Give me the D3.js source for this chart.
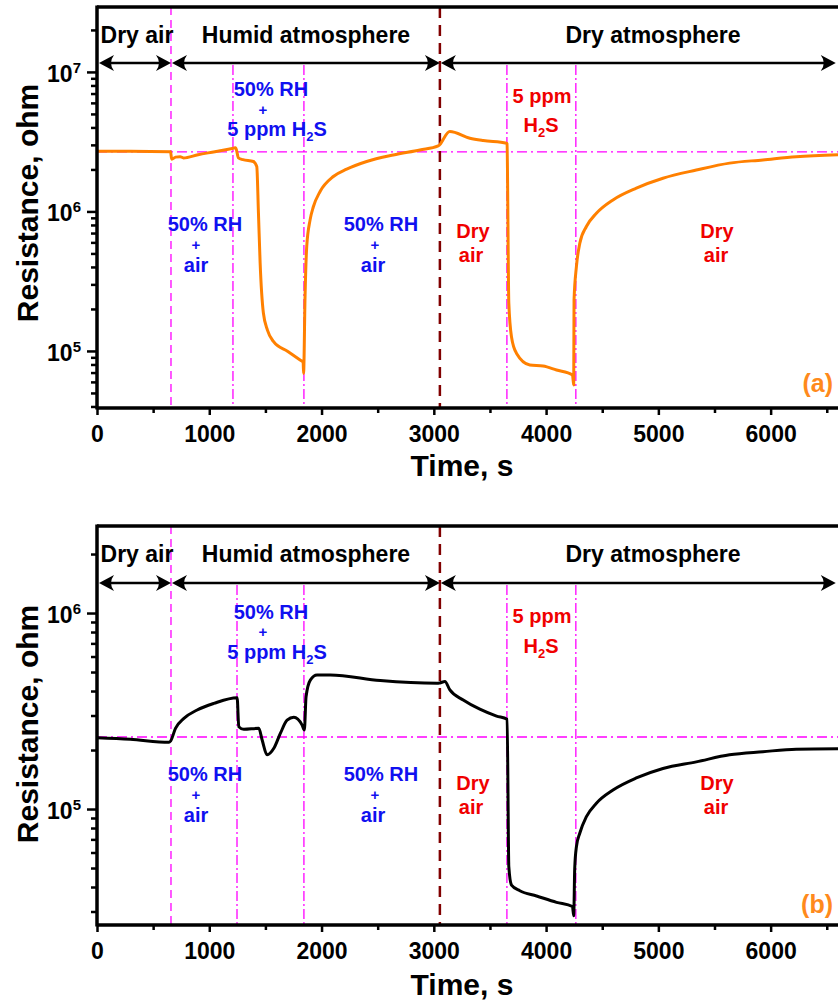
<!DOCTYPE html>
<html>
<head>
<meta charset="utf-8">
<script src="https://cdn.jsdelivr.net/npm/d3@7"></script>
<style>
  body { margin: 0; background: #fff; }
  svg { display: block; font-family: "Liberation Sans", Arial, sans-serif; font-weight: bold; }
</style>
</head>
<body>
<svg id="chart" width="838" height="1003"></svg>
<script>
// ---- data ----
// time axis (s)
const timeTicks = [0, 1000, 2000, 3000, 4000, 5000, 6000];
const timeMinor = [500, 1500, 2500, 3500, 4500, 5500, 6500];

// switching times (s)
const dryEnd = 659;          // dry air -> humid
const humidEnd = 3054;       // humid -> dry atmosphere
const humidH2S_a = [1211, 1843];
const humidH2S_b = [1247, 1843];
const dryH2S = [3651, 4265];

// panel (a): orange curve
const timeA = [0, 300, 655, 665, 700, 740, 770, 900, 1050, 1215, 1235, 1260, 1300, 1393, 1423, 1438, 1453,
  1482, 1518, 1571, 1700, 1809, 1836, 1840, 1853, 1868, 1898, 1927, 1987, 2105, 2224, 2402, 2639, 2876,
  3039, 3060, 3081, 3142, 3321, 3440, 3648, 3652, 3668, 3692, 3737, 3855, 3973, 4093, 4235, 4246, 4249,
  4270, 4300, 4359, 4448, 4596, 4804, 5041, 5338, 5634, 5931, 6228, 6600];
const resA = [2.70e6, 2.70e6, 2.68e6, 2.37e6, 2.45e6, 2.47e6, 2.42e6, 2.55e6, 2.68e6, 2.84e6, 2.86e6, 2.42e6,
  2.35e6, 2.28e6, 2.10e6, 9.75e5, 4.28e5, 1.87e5, 1.41e5, 1.17e5, 9.9e4, 8.6e4, 8.3e4, 6.9e4, 2.45e5, 5.6e5,
  8.7e5, 1.08e6, 1.39e6, 1.78e6, 2.01e6, 2.28e6, 2.54e6, 2.76e6, 2.95e6, 3.05e6, 3.26e6, 3.74e6, 3.35e6,
  3.22e6, 3.08e6, 3.05e6, 2.2e5, 1.26e5, 9.6e4, 7.94e4, 7.8e4, 7.3e4, 6.73e4, 5.7e4, 2.32e5, 4.02e5, 5.9e5,
  7.8e5, 9.7e5, 1.21e6, 1.47e6, 1.73e6, 1.98e6, 2.22e6, 2.34e6, 2.47e6, 2.55e6];
const baselineA = 2.67e6;

// panel (b): black curve
const timeB = [0, 296, 641, 655, 699, 774, 892, 1041, 1248, 1263, 1308, 1441, 1471, 1515, 1575, 1633, 1693,
  1753, 1827, 1847, 1862, 1900, 1960, 2078, 2523, 3028, 3054, 3099, 3143, 3262, 3410, 3559, 3653, 3668,
  3692, 3766, 3915, 4093, 4235, 4246, 4255, 4270, 4300, 4359, 4448, 4596, 4804, 5041, 5338, 5634, 5931,
  6228, 6600];
const resB = [2.31e5, 2.27e5, 2.19e5, 2.22e5, 2.58e5, 2.90e5, 3.20e5, 3.46e5, 3.70e5, 2.63e5, 2.55e5, 2.58e5,
  2.25e5, 1.89e5, 2.04e5, 2.43e5, 2.84e5, 2.94e5, 2.68e5, 2.53e5, 3.74e5, 4.55e5, 4.83e5, 4.83e5, 4.52e5,
  4.38e5, 4.40e5, 4.47e5, 4.05e5, 3.60e5, 3.23e5, 2.98e5, 2.87e5, 5.08e4, 4.09e4, 3.83e4, 3.60e4, 3.34e4,
  3.18e4, 2.85e4, 4.98e4, 6.42e4, 7.52e4, 9.14e4, 1.07e5, 1.25e5, 1.44e5, 1.61e5, 1.74e5, 1.89e5, 1.96e5,
  2.02e5, 2.03e5];
const baselineB = 2.33e5;

// ---- drawing ----
const svg = d3.select("#chart");
const x = d3.scaleLinear().domain([0, 6600]).range([97, 838]);

const MAG = "#ff00ff", BLUE = "#1010f0", RED = "#f00000", ORANGE = "#ff8000";

function arrowHead(g, xt, yt, dir) {
  // dir = -1 points left, +1 points right
  const b = -dir;
  g.append("path")
    .attr("d", `M${xt},${yt} L${xt + b * 15},${yt - 8} Q${xt + b * 9},${yt} ${xt + b * 15},${yt + 8} Z`)
    .attr("fill", "#000");
}

// one stacked label = one <text>, each line a tspan
function addLines(g, lines, cx, color, size) {
  // lines: [text, baselineY, dx]
  const t = g.append("text").attr("text-anchor", "middle").attr("fill", color).attr("font-size", size);
  lines.forEach(([txt, yy, dx]) => {
    const lx = cx + (dx || 0);
    if (txt.endsWith("H2S")) {
      t.append("tspan").attr("x", lx).attr("y", yy).text(txt.replace("2S", ""));
      t.append("tspan").text("2").attr("font-size", 13).attr("dy", 5);
      t.append("tspan").text("S").attr("dy", -5);
    } else {
      t.append("tspan").attr("x", lx).attr("y", yy)
        .attr("font-size", txt === "+" ? 15 : size).text(txt);
    }
  });
}

function drawPanel(p) {
  const y = d3.scaleLog().domain(p.yDomain).range([p.bottom, p.top]);
  const g = svg.append("g");

  svg.append("clipPath").attr("id", "clip-" + p.tag)
    .append("rect").attr("x", 97).attr("y", p.top).attr("width", 741).attr("height", p.bottom - p.top);
  const plot = g.append("g").attr("clip-path", `url(#clip-${p.tag})`);

  // guide lines
  plot.append("line")
    .attr("x1", x(0)).attr("x2", x(6600)).attr("y1", y(p.baseline)).attr("y2", y(p.baseline))
    .attr("stroke", MAG).attr("stroke-width", 1.3).attr("stroke-dasharray", "10,4,2,4");
  plot.append("line")
    .attr("x1", x(dryEnd)).attr("x2", x(dryEnd)).attr("y1", p.top).attr("y2", p.bottom)
    .attr("stroke", MAG).attr("stroke-width", 1.3).attr("stroke-dasharray", "8,5");
  p.humidH2S.concat(dryH2S).forEach(t => {
    plot.append("line")
      .attr("x1", x(t)).attr("x2", x(t)).attr("y1", p.arrowY + 2).attr("y2", p.bottom)
      .attr("stroke", MAG).attr("stroke-width", 1.3).attr("stroke-dasharray", "10,3,2,3");
  });
  plot.append("line")
    .attr("x1", x(humidEnd)).attr("x2", x(humidEnd)).attr("y1", p.top).attr("y2", p.bottom)
    .attr("stroke", "#800000").attr("stroke-width", 2.5).attr("stroke-dasharray", "11,7");

  // curve
  const line = d3.line().x(d => x(d[0])).y(d => y(d[1])).curve(d3.curveMonotoneX);
  plot.append("path").datum(d3.zip(p.time, p.res))
    .attr("d", line).attr("fill", "none").attr("stroke", p.color)
    .attr("stroke-width", 3).attr("stroke-linejoin", "round");

  // phase arrows
  const ag = g.append("g");
  [[0, dryEnd], [dryEnd, humidEnd], [humidEnd, 6580]].forEach(([a, b]) => {
    const xa = x(a) + (a === 0 ? 2 : 1), xb = x(b);
    ag.append("line").attr("x1", xa + 4).attr("x2", xb - 4).attr("y1", p.arrowY).attr("y2", p.arrowY)
      .attr("stroke", "#000").attr("stroke-width", 2.5);
    arrowHead(ag, xa, p.arrowY, -1);
    arrowHead(ag, xb, p.arrowY, 1);
  });
  const hy = p.top + 36;
  g.append("text").attr("x", 137).attr("y", hy).attr("text-anchor", "middle").attr("font-size", 23).text("Dry air");
  g.append("text").attr("x", 306).attr("y", hy).attr("text-anchor", "middle").attr("font-size", 23).text("Humid atmosphere");
  g.append("text").attr("x", 653).attr("y", hy).attr("text-anchor", "middle").attr("font-size", 23).text("Dry atmosphere");

  // annotations
  addLines(g, [["50% RH", p.ann1[0], 0], ["+", p.ann1[1], -8], ["5 ppm H2S", p.ann1[2], 6]], 271, BLUE, 20);
  addLines(g, [["50% RH", p.ann2[0], 9], ["+", p.ann2[1], 0], ["air", p.ann2[2], 0]], 196, BLUE, 20);
  addLines(g, [["50% RH", p.ann2[0], 8], ["+", p.ann2[1], 2], ["air", p.ann2[2], 0]], 373, BLUE, 20);
  addLines(g, [["5 ppm", p.ann3[0], 1], ["H2S", p.ann3[1], 0]], 541, RED, 20);
  addLines(g, [["Dry", p.ann4[0], 2], ["air", p.ann4[1], 0]], 471, RED, 20);
  addLines(g, [["Dry", p.ann4[0], 1], ["air", p.ann4[1], 0]], 716, RED, 20);
  g.append("text").attr("x", 833).attr("y", p.tagY).attr("text-anchor", "end")
    .attr("font-size", 25).attr("fill", "#ff8a1c").text(`(${p.tag})`);

  // axes
  const xAxis = g.append("g").attr("transform", `translate(0,${p.bottom})`)
    .call(d3.axisBottom(x).tickValues(timeTicks).tickSize(7).tickSizeOuter(0).tickPadding(11).tickFormat(d3.format("d")));
  g.append("g").attr("transform", `translate(0,${p.bottom})`)
    .call(d3.axisBottom(x).tickValues(timeMinor).tickSize(5).tickSizeOuter(0).tickFormat(""));

  const minors = [];
  for (let e = 4; e <= 7; e++) for (let m = 2; m <= 9; m++) {
    const v = m * Math.pow(10, e);
    if (v > p.yDomain[0] && v < p.yDomain[1]) minors.push(v);
  }
  const yAxis = g.append("g").attr("transform", "translate(97,0)")
    .call(d3.axisLeft(y).tickValues(p.majors).tickSize(10).tickSizeOuter(0).tickPadding(6).tickFormat(""));
  g.append("g").attr("transform", "translate(97,0)")
    .call(d3.axisLeft(y).tickValues(minors).tickSize(6).tickSizeOuter(0).tickFormat(""));

  g.selectAll(".domain").remove();
  g.selectAll(".tick line").attr("stroke", "#000").attr("stroke-width", 2.5);
  xAxis.selectAll("text").attr("font-size", 23).attr("font-family", "Liberation Sans, Arial, sans-serif")
    .attr("font-weight", "bold").attr("fill", "#000");

  yAxis.selectAll(".tick text").each(function(d) {
    const t = d3.select(this).attr("font-size", 23).attr("font-family", "Liberation Sans, Arial, sans-serif")
      .attr("font-weight", "bold").attr("fill", "#000").attr("dy", "0.4em");
    t.append("tspan").text("10");
    t.append("tspan").text(Math.round(Math.log10(d))).attr("font-size", 15).attr("dy", -9);
  });

  // frame
  const fr = g.append("g").attr("stroke", "#000").attr("stroke-width", 3.5);
  fr.append("line").attr("x1", 97).attr("x2", 97).attr("y1", p.top - 1.5).attr("y2", p.bottom + 1.5);
  fr.append("line").attr("x1", 97).attr("x2", 838).attr("y1", p.bottom).attr("y2", p.bottom);
  fr.append("line").attr("x1", 97).attr("x2", 838).attr("y1", p.top).attr("y2", p.top);

  // titles
  g.append("text").attr("x", 462).attr("y", p.xTitleY).attr("text-anchor", "middle")
    .attr("font-size", 30).text("Time, s");
  g.append("text").attr("transform", `translate(38,${p.titleY})rotate(-90)`)
    .attr("text-anchor", "middle").attr("font-size", 30).text("Resistance, ohm");
}

drawPanel({
  tag: "a", top: 7, bottom: 408, yDomain: [3.9e4, 2.92e7], majors: [1e5, 1e6, 1e7],
  time: timeA, res: resA, baseline: baselineA, color: ORANGE, humidH2S: humidH2S_a,
  arrowY: 63, ann1: [96, 115, 136], ann2: [231, 250, 272], ann3: [103, 132], ann4: [238, 262],
  tagY: 392, xTitleY: 476, titleY: 203
});
drawPanel({
  tag: "b", top: 526, bottom: 925, yDomain: [2.56e4, 2.78e6], majors: [1e5, 1e6],
  time: timeB, res: resB, baseline: baselineB, color: "#000", humidH2S: humidH2S_b,
  arrowY: 583, ann1: [619, 637, 659], ann2: [781, 800, 822], ann3: [623, 653], ann4: [790, 814],
  tagY: 913, xTitleY: 995, titleY: 724
});
</script>
</body>
</html>
